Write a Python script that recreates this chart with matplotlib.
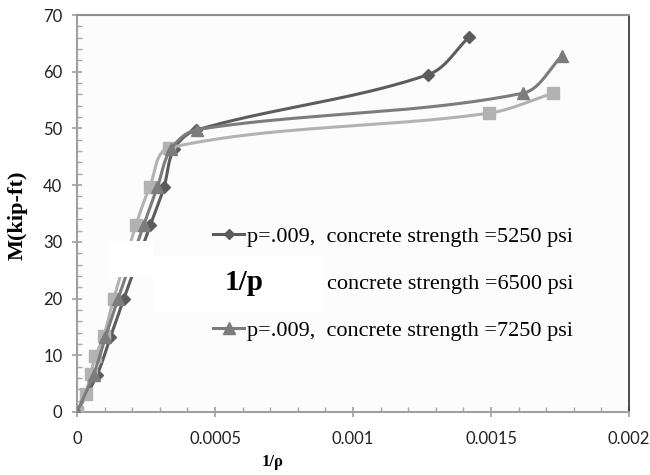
import numpy as np
import matplotlib
matplotlib.use("Agg")
import matplotlib.pyplot as plt
from matplotlib.patches import Rectangle
from matplotlib.ticker import MultipleLocator

# ---- data ----
x_5250 = [0, 0.000073, 0.000121, 0.000170, 0.000266, 0.000315, 0.000351, 0.000432, 0.001273, 0.001422]
y_5250 = [0, 6.6, 13.2, 20.0, 33.0, 39.6, 46.3, 49.7, 59.5, 66.2]

x_6500 = [0, 0.000031, 0.000049, 0.000067, 0.000097, 0.000133, 0.000214, 0.000263, 0.000335, 0.001494, 0.001723]
y_6500 = [0, 3.2, 6.7, 9.8, 13.4, 20.0, 33.0, 39.6, 46.6, 52.7, 56.2]

x_7250 = [0, 0.000060, 0.000103, 0.000149, 0.000242, 0.000291, 0.000340, 0.000436, 0.001615, 0.001756]
y_7250 = [0, 6.6, 13.2, 20.0, 33.0, 39.6, 46.3, 49.8, 56.2, 62.7]

labels = ["p=.009,  concrete strength =5250 psi",
          "concrete strength =6500 psi",
          "p=.009,  concrete strength =7250 psi"]
hidden_prefix = "p=.009,  "   # prefix of the middle entry, covered in the reference
colors = ["#5c5c5c", "#b2b2b2", "#7c7c7c"]
markers = ["D", "s", "^"]
msizes = [6, 9, 9]

xticks = [0, 0.0005, 0.001, 0.0015, 0.002]
xticklabels = ["0", "0.0005", "0.001", "0.0015", "0.002"]
yticks = [0, 10, 20, 30, 40, 50, 60, 70]

LEG_FONT = {"family": "Liberation Serif", "size": 16}

fig = plt.figure(figsize=(6.5, 4.75), dpi=100)
ax = fig.add_axes([77 / 650, 1 - 412 / 475, (629 - 77) / 650, (412 - 15) / 475])
ax.set_facecolor("#fcfcfc")
ax.set_xlim(0, 0.002)
ax.set_ylim(0, 70)


def smooth(xs, ys, n=40):
    """Smoothed line through the points (cubic Bezier, tangents built in display space)."""
    pd = ax.transData.transform(np.column_stack([xs, ys]).astype(float))
    m = len(pd)
    tang = []
    for i in range(m):
        a = pd[i - 1] if i > 0 else pd[i]
        b = pd[i + 1] if i < m - 1 else pd[i]
        d = b - a
        nrm = np.hypot(*d)
        tang.append(d / nrm if nrm > 0 else d)
    out = [pd[0]]
    for i in range(m - 1):
        p1, p2 = pd[i], pd[i + 1]
        L = np.hypot(*(p2 - p1))
        c1 = p1 + tang[i] * L / 3.0
        c2 = p2 - tang[i + 1] * L / 3.0
        t = np.linspace(0, 1, n)[1:, None]
        seg = ((1 - t) ** 3) * p1 + 3 * ((1 - t) ** 2) * t * c1 + 3 * (1 - t) * t ** 2 * c2 + t ** 3 * p2
        out.extend(seg)
    out = ax.transData.inverted().transform(np.array(out))
    return out[:, 0], out[:, 1]


series = [(x_5250, y_5250), (x_6500, y_6500), (x_7250, y_7250)]
order = [1, 2, 0]
for i in order:
    xs, ys = series[i]
    sx, sy = smooth(xs, ys)
    ax.plot(sx, sy, color=colors[i], lw=2.2, zorder=2 + i)
    ax.plot(xs, ys, linestyle="none", marker=markers[i], ms=msizes[i],
            color=colors[i], zorder=2 + i)

# legend handles
handles = []
for i in range(3):
    h, = ax.plot([], [], color=colors[i], lw=2.2, marker=markers[i], ms=msizes[i] - 1)
    handles.append(h)
leg = ax.legend(handles, labels, loc="upper left",
                bbox_to_anchor=(213 / 650, 1 - 226 / 475), bbox_transform=fig.transFigure,
                frameon=False, borderpad=0, borderaxespad=0,
                handlelength=1.4, handletextpad=0.15, labelspacing=1.2,
                prop=LEG_FONT)

# shift the middle label right by the width of its covered prefix
fig.canvas.draw()
renderer = fig.canvas.get_renderer()
t1 = fig.text(0, 0, hidden_prefix + "c", fontfamily=LEG_FONT["family"], fontsize=LEG_FONT["size"])
t2 = fig.text(0, 0, "c", fontfamily=LEG_FONT["family"], fontsize=LEG_FONT["size"])
w_px = t1.get_window_extent(renderer).width - t2.get_window_extent(renderer).width
t1.remove()
t2.remove()
try:
    rows = leg._legend_handle_box.get_children()[0].get_children()
    rows[1].sep += w_px * 72.0 / fig.dpi
except Exception:
    pass

ax.set_xticks(xticks)
ax.set_xticklabels(xticklabels)
ax.set_yticks(yticks)
ax.xaxis.set_minor_locator(MultipleLocator(0.0001))
ax.yaxis.set_minor_locator(MultipleLocator(2))

for lab in ax.get_xticklabels() + ax.get_yticklabels():
    lab.set_fontfamily("Lato")
    lab.set_fontsize(12)
    lab.set_color("#222222")

ax.tick_params(axis="both", which="major", direction="inout", length=7, width=1.2, color="#a0a0a0")
ax.tick_params(axis="x", which="major", pad=10)
ax.tick_params(axis="y", which="major", pad=7)
ax.tick_params(axis="both", which="minor", direction="in", length=3.5, width=1, color="#a8a8a8")

for s in ["left", "bottom"]:
    ax.spines[s].set_color("#a0a0a0")
    ax.spines[s].set_linewidth(1.5)
ax.spines["top"].set_color("#909090")
ax.spines["top"].set_linewidth(1.5)
ax.spines["right"].set_color("#303030")
ax.spines["right"].set_linewidth(1.2)

fig.text(18 / 650, 1 - 215 / 475, "M(kip-ft)", rotation=90, ha="center", va="center",
         fontfamily="Liberation Serif", fontweight="bold", fontsize=16)
fig.text(273 / 650, 1 - 462 / 475, "1/ρ", ha="center", va="center",
         fontfamily="Liberation Serif", fontweight="bold", fontsize=12)

# white pasted patches (as in the reference image)
fig.add_artist(Rectangle((108 / 650, 1 - 277 / 475), 45 / 650, 36 / 475,
                         transform=fig.transFigure, facecolor="white", edgecolor="none", zorder=3))
fig.add_artist(Rectangle((153 / 650, 1 - 312 / 475), 169 / 650, 56 / 475,
                         transform=fig.transFigure, facecolor="white", edgecolor="none", zorder=3))
fig.text(244 / 650, 1 - 283 / 475, "1/p", ha="center", va="center",
         fontfamily="Liberation Serif", fontweight="bold", fontsize=21, zorder=4)

fig.savefig("out.png", dpi=100)
